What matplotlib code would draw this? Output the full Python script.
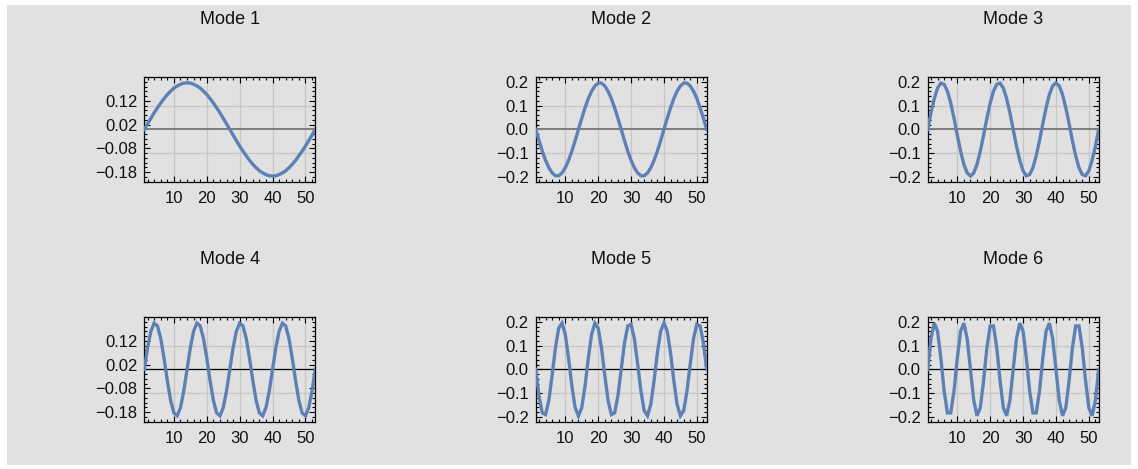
import matplotlib
matplotlib.use("Agg")
import matplotlib.pyplot as plt
from matplotlib.patches import Rectangle
from matplotlib.ticker import MultipleLocator

# ── Data: normal-mode shapes of a 52-site ring (last point closes the loop) ──
site = list(range(1, 54))

mode1 = [0, .024, .047, .070, .091, .111, .130, .147, .161, .174, .183, .190, .195, .196,
         .195, .190, .183, .174, .161, .147, .130, .111, .091, .070, .047, .024, 0,
         -.024, -.047, -.070, -.091, -.111, -.130, -.147, -.161, -.174, -.183, -.190, -.195, -.196,
         -.195, -.190, -.183, -.174, -.161, -.147, -.130, -.111, -.091, -.070, -.047, -.024, 0]

mode2 = [0, -.047, -.091, -.130, -.161, -.183, -.195, -.195, -.183, -.161, -.130, -.091, -.047,
         0, .047, .091, .130, .161, .183, .195, .195, .183, .161, .130, .091, .047,
         0, -.047, -.091, -.130, -.161, -.183, -.195, -.195, -.183, -.161, -.130, -.091, -.047,
         0, .047, .091, .130, .161, .183, .195, .195, .183, .161, .130, .091, .047, 0]

mode3 = [0, .070, .130, .174, .195, .190, .161, .111, .047, -.024, -.091, -.147, -.183,
         -.196, -.183, -.147, -.091, -.024, .047, .111, .161, .190, .195, .174, .130, .070,
         0, -.070, -.130, -.174, -.195, -.190, -.161, -.111, -.047, .024, .091, .147, .183,
         .196, .183, .147, .091, .024, -.047, -.111, -.161, -.190, -.195, -.174, -.130, -.070, 0]

mode4 = [0, .091, .161, .195, .183, .130, .047, -.047, -.130, -.183, -.195, -.161, -.091,
         0, .091, .161, .195, .183, .130, .047, -.047, -.130, -.183, -.195, -.161, -.091,
         0, .091, .161, .195, .183, .130, .047, -.047, -.130, -.183, -.195, -.161, -.091,
         0, .091, .161, .195, .183, .130, .047, -.047, -.130, -.183, -.195, -.161, -.091, 0]

mode5 = [0, -.111, -.183, -.190, -.130, -.024, .091, .174, .195, .147, .047, -.070, -.161,
         -.196, -.161, -.070, .047, .147, .195, .174, .091, -.024, -.130, -.190, -.183, -.111,
         0, .111, .183, .190, .130, .024, -.091, -.174, -.195, -.147, -.047, .070, .161,
         .196, .161, .070, -.047, -.147, -.195, -.174, -.091, .024, .130, .190, .183, .111, 0]

mode6 = [0, .130, .195, .161, .047, -.091, -.183, -.183, -.091, .047, .161, .195, .130,
         0, -.130, -.195, -.161, -.047, .091, .183, .183, .091, -.047, -.161, -.195, -.130,
         0, .130, .195, .161, .047, -.091, -.183, -.183, -.091, .047, .161, .195, .130,
         0, -.130, -.195, -.161, -.047, .091, .183, .183, .091, -.047, -.161, -.195, -.130, 0]

modes = [mode1, mode2, mode3, mode4, mode5, mode6]
titles = ["Mode 1", "Mode 2", "Mode 3", "Mode 4", "Mode 5", "Mode 6"]

xticks = [10, 20, 30, 40, 50]
yticks_odd = [0.12, 0.02, -0.08, -0.18]
ylabels_odd = ["0.12", "0.02", "\u22120.08", "\u22120.18"]
yticks_std = [0.2, 0.1, 0.0, -0.1, -0.2]
ylabels_std = ["0.2", "0.1", "0.0", "\u22120.1", "\u22120.2"]
grid_x = [10, 20, 30, 40, 50]
grid_y = [-0.1, 0.1]

BLUE = "#5E81B5"
BG = "#e1e1e1"

plt.rcParams["font.family"] = ["Liberation Sans", "DejaVu Sans"]

W, H = 1138, 469
fig = plt.figure(figsize=(W / 100, H / 100), dpi=100, facecolor="white")
fig.patches.append(Rectangle((7 / W, 4 / H), 1124 / W, 460 / H,
                             transform=fig.transFigure, facecolor=BG,
                             edgecolor="none", zorder=-10))

# ── Panel geometry (pixels) ──────────────────────────────────────────────────
col_left = [144.3, 535.7, 927.7]
row_top = [76.7, 316.7]
ax_w, ax_h = 171, 105
title_y = [19, 259]

for i, (vals, title) in enumerate(zip(modes, titles)):
    r, c = divmod(i, 3)
    left = col_left[c] / W
    bottom = (H - row_top[r] - ax_h) / H
    ax = fig.add_axes([left, bottom, ax_w / W, ax_h / H])
    ax.set_facecolor("none")

    for gx in grid_x:
        ax.axvline(gx, color="#c6c6c6", lw=0.9, zorder=1)
    for gy in grid_y:
        ax.axhline(gy, color="#c6c6c6", lw=0.9, zorder=1)
    if r == 0:
        ax.axhline(0, color="#7d7d7d", lw=1.4, zorder=2)
    else:
        ax.axhline(0, color="black", lw=0.9, zorder=2)

    ax.plot(site, vals, color=BLUE, lw=2.4, zorder=3, solid_joinstyle="miter")

    ax.set_xlim(1, 53)
    ax.set_ylim(-0.22, 0.222)
    ax.set_xticks(xticks)
    ax.xaxis.set_minor_locator(MultipleLocator(2))
    if i in (0, 3):
        ax.set_yticks(yticks_odd)
        ax.set_yticklabels(ylabels_odd)
    else:
        ax.set_yticks(yticks_std)
        ax.set_yticklabels(ylabels_std)
    ax.yaxis.set_minor_locator(MultipleLocator(0.02))

    ax.tick_params(which="both", direction="in", top=True, right=True,
                   color="black", width=0.8, labelsize=12, labelcolor="#111111")
    ax.tick_params(which="major", length=4.5)
    ax.tick_params(which="minor", length=2.5)
    ax.tick_params(axis="y", pad=5)
    ax.tick_params(axis="x", pad=7)
    for sp in ax.spines.values():
        sp.set_linewidth(0.9)
        sp.set_color("black")

    fig.text(left + ax_w / W / 2, 1 - title_y[r] / H, title, ha="center",
             va="center", fontsize=13, color="#111111")

fig.savefig("out.png", dpi=100, facecolor=fig.get_facecolor())
